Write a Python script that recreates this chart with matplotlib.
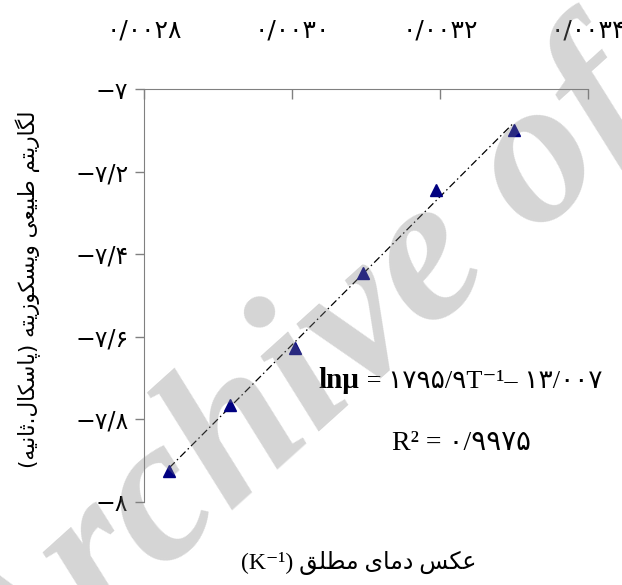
import numpy as np
import matplotlib
matplotlib.use("Agg")
import matplotlib.pyplot as plt

# inverse absolute temperature (1/K) and natural log of viscosity (Pa.s)
invT = [0.002834, 0.002916, 0.003004, 0.003096, 0.003195, 0.003300]
lnmu = [-7.926, -7.766, -7.627, -7.446, -7.245, -7.099]

# fitted line reported on the chart
slope = 1795.9
intercept = -13.007
r2 = 0.9975

xticks = [0.0028, 0.0030, 0.0032, 0.0034]
yticks = [-8.0, -7.8, -7.6, -7.4, -7.2, -7.0]

# contextual forms: isolated, final, initial, medial (None -> letter never joins forward)
FORMS = {
    'ا': ('\uFE8D', '\uFE8E', None, None),
    'ب': ('\uFE8F', '\uFE90', '\uFE91', '\uFE92'),
    'پ': ('\uFB56', '\uFB57', '\uFB58', '\uFB59'),
    'ت': ('\uFE95', '\uFE96', '\uFE97', '\uFE98'),
    'ث': ('\uFE99', '\uFE9A', '\uFE9B', '\uFE9C'),
    'د': ('\uFEA9', '\uFEAA', None, None),
    'ر': ('\uFEAD', '\uFEAE', None, None),
    'ز': ('\uFEAF', '\uFEB0', None, None),
    'س': ('\uFEB1', '\uFEB2', '\uFEB3', '\uFEB4'),
    'ط': ('\uFEC1', '\uFEC2', '\uFEC3', '\uFEC4'),
    'ع': ('\uFEC9', '\uFECA', '\uFECB', '\uFECC'),
    'ق': ('\uFED5', '\uFED6', '\uFED7', '\uFED8'),
    'ک': ('\uFB8E', '\uFB8F', '\uFB90', '\uFB91'),
    'گ': ('\uFB92', '\uFB93', '\uFB94', '\uFB95'),
    'ل': ('\uFEDD', '\uFEDE', '\uFEDF', '\uFEE0'),
    'م': ('\uFEE1', '\uFEE2', '\uFEE3', '\uFEE4'),
    'ن': ('\uFEE5', '\uFEE6', '\uFEE7', '\uFEE8'),
    'ه': ('\uFEE9', '\uFEEA', '\uFEEB', '\uFEEC'),
    'و': ('\uFEED', '\uFEEE', None, None),
    'ی': ('\uFBFC', '\uFBFD', '\uFBFE', '\uFBFF'),
}


def shape(s):
    out = []
    for i, ch in enumerate(s):
        if ch not in FORMS:
            out.append(ch)
            continue
        prev = s[i - 1] if i > 0 else ''
        nxt = s[i + 1] if i + 1 < len(s) else ''
        joinprev = prev in FORMS and FORMS[prev][2] is not None
        joinnext = nxt in FORMS and FORMS[ch][2] is not None
        iso, fin, ini, med = FORMS[ch]
        if joinprev and joinnext:
            out.append(med)
        elif joinprev:
            out.append(fin)
        elif joinnext:
            out.append(ini)
        else:
            out.append(iso)
    return ''.join(out)


def rtl(s):
    # matplotlib has no bidi support, so lay the string out in visual order
    return shape(s)[::-1].translate(str.maketrans('()', ')('))


fadigits = str.maketrans('0123456789.-', '۰۱۲۳۴۵۶۷۸۹/\u2212')


def fa(v, fmt):
    return format(v, fmt).translate(fadigits)


fafont = ['DejaVu Sans']
serif = ['Liberation Serif', 'DejaVu Sans']
axcolor = '#808080'

fig = plt.figure(figsize=(6.22, 5.85), dpi=100)
ax = fig.add_axes([144.3 / 622, 1 - 501.7 / 585, (588 - 144.3) / 622, (501.7 - 89.3) / 585])

ax.plot(invT, lnmu, linestyle='none', marker='^', markersize=8.5, color='#000080', zorder=3)

xfit = np.array([invT[0], invT[-1]])
ax.plot(xfit, slope * xfit + intercept, color='black', lw=0.9,
        linestyle=(0, (6, 2.5, 1.2, 2.5)), zorder=2)

ax.set_xlim(0.0028, 0.0034)
ax.set_ylim(-8, -7)
ax.xaxis.tick_top()
ax.set_xticks(xticks)
ax.set_xticklabels([fa(v, '.4f') for v in xticks], family=fafont, fontsize=18)
ax.set_yticks(yticks)
ax.set_yticklabels([fa(v, 'g') for v in yticks], family=fafont, fontsize=17)
ax.tick_params(axis='x', direction='in', length=7, pad=34, color=axcolor, width=1)
ax.tick_params(axis='y', direction='out', length=6.5, pad=5, color=axcolor, width=1)
ax.spines['right'].set_visible(False)
ax.spines['bottom'].set_visible(False)
ax.spines['top'].set_color(axcolor)
ax.spines['left'].set_color(axcolor)

fig.text(28 / 622, 1 - 289 / 585, rtl('لگاریتم طبیعی ویسکوزیته (پاسکال.ثانیه)'),
         rotation=90, ha='center', va='center', family=fafont, fontsize=15.5)
fig.text(359 / 622, 1 - 563 / 585, '(K\u207b\u00b9) ' + rtl('عکس دمای مطلق'),
         ha='center', va='center', family=serif, fontsize=17)

fig.text(318 / 622, 1 - 388 / 585, 'ln\u03bc', ha='left', va='baseline', family=serif,
         fontsize=21, weight='bold')
eq = ' = ' + fa(slope, '.1f') + 'T\u207b\u00b9\u2013 ' + fa(-intercept, '.3f')
fig.text(602 / 622, 1 - 388 / 585, eq, ha='right', va='baseline', family=serif, fontsize=19)
fig.text(461 / 622, 1 - 450 / 585, 'R\u00b2 = ' + fa(r2, '.4f'), ha='center', va='baseline',
         family=serif, fontsize=20)

fig.text(0.0, -0.245, 'Archive of SID', rotation=42, rotation_mode='anchor', ha='left',
         va='baseline', fontsize=150, family='Liberation Serif', weight='bold', style='italic',
         color='#808080', alpha=0.33, zorder=10)

fig.savefig('out.png', dpi=100)
